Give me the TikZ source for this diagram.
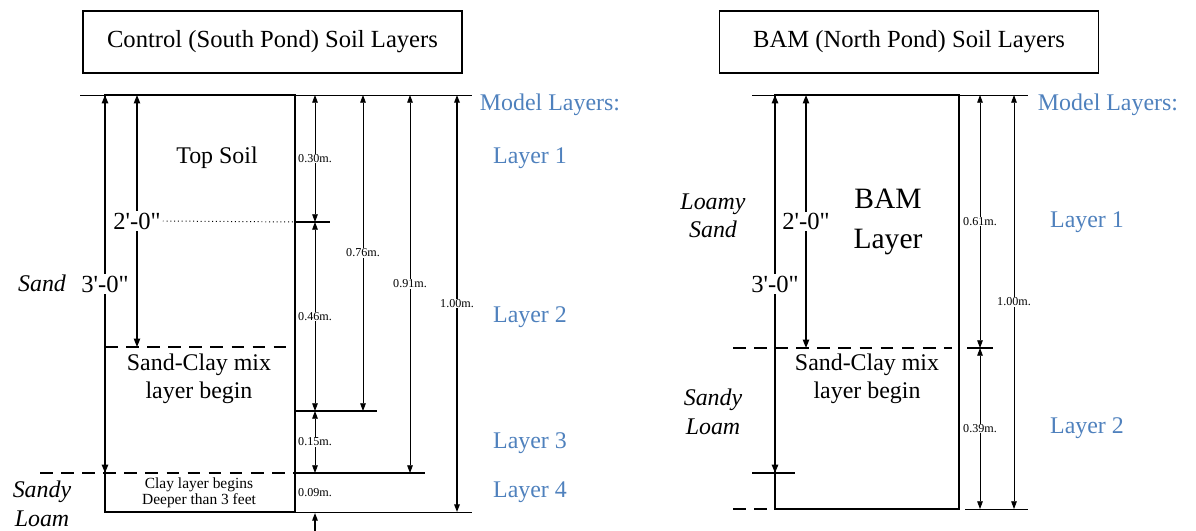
\documentclass[tikz,border=0pt]{standalone}
\usepackage{fontspec}
\setmainfont{Liberation Serif}[Ligatures=TeXOff]
\usetikzlibrary{arrows.meta}
\definecolor{modelblue}{RGB}{79,129,189}
\begin{document}
\begin{tikzpicture}[x=0.025cm,y=-0.025cm]
    \tikzset{frame/.style = {draw=black,line width=1.8pt},
      titlebox/.style = {draw=black,line width=0.9pt,minimum width=9.47cm,minimum height=1.55cm,font=\fontsize{17.5}{20}\selectfont},
      dimarrow/.style = {line width=0.6pt,{Triangle[length=5.5pt,width=4pt]}-{Triangle[length=5.5pt,width=4pt]}},
      deptharrow/.style = {line width=1.3pt,{Triangle[length=6pt,width=4.5pt]}-{Triangle[length=6pt,width=4.5pt]}},
      dimlabel/.style = {fill=white,inner sep=0.6pt,font=\fontsize{8.6}{9}\selectfont},
      depthlabel/.style = {fill=white,inner sep=1pt,font=\fontsize{17.5}{20}\selectfont},
      level/.style = {line width=1pt},
      dashlevel/.style = {line width=1pt,dash pattern=on 9pt off 6pt},
      guide/.style = {line width=0.6pt},
      soil/.style = {align=center,font=\fontsize{17}{20.5}\selectfont\itshape},
      inbox/.style = {align=center,font=\fontsize{17}{20}\selectfont},
      model/.style = {text=modelblue,font=\fontsize{17}{20}\selectfont}}
    \useasboundingbox (0,0) rectangle (1196,531);

    % control (south pond)
    \node[titlebox] (ctitle) at (272.5,42) {Control (South Pond) Soil Layers};
    \coordinate (cNW) at (105,95);
    \coordinate (cSE) at (295,512);
    \draw[guide] (80,95) -- (472,95);
    \draw[guide] (cSE) -- (472,512);
    \draw[dashlevel] (105,347) -- (287,347);
    \draw[dashlevel] (40,473) -- (295,473);
    \draw[level] (295,473) -- (425,473);
    \draw[level] (295,411) -- (377,411);
    \draw[level] (295,222) -- (330,222);
    \draw[frame] (cNW) rectangle (cSE);

    \coordinate (c3a) at (105,95);
    \coordinate (c3b) at (105,473);
    \coordinate (c2a) at (137,95);
    \coordinate (c2b) at (137,347);
    \draw[deptharrow] (c3a) -- (c3b) node[depthlabel,midway] (c3lab) {3'-0"};
    \draw[deptharrow,line width=1pt] (c2a) -- (c2b) node[depthlabel,midway] (c2lab) {2'-0"};
    \draw[line width=0.7pt,dotted] (c2lab.east) -- (295,222);

    \node[inbox] (topsoil) at (217,158) {Top Soil};
    \node[inbox] (cmix) at (199,379) {Sand-Clay mix\\layer begin};
    \node[align=center,font=\fontsize{11}{11.5}\selectfont] (clay) at (199,493) {Clay layer begins\\Deeper than 3 feet};
    \node[soil] (csand) at (42,283) {Sand};
    \node[soil] (cloam) at (42,504) {Sandy\\Loam};

    % dimensions in metres
    \coordinate (d1a) at (315,95);
    \coordinate (d1b) at (315,222);
    \coordinate (d1c) at (315,411);
    \coordinate (d1d) at (315,473);
    \coordinate (d1e) at (315,513);
    \coordinate (d1f) at (315,531);
    \draw[dimarrow] (d1a) -- (d1b) node[dimlabel,midway] {0.30m.};
    \draw[dimarrow] (d1b) -- (d1c) node[dimlabel,midway] {0.46m.};
    \draw[dimarrow] (d1c) -- (d1d) node[dimlabel,midway] {0.15m.};
    \node[dimlabel] (d09) at (315,493) {0.09m.};
    \draw[line width=0.8pt,-{Triangle[length=5.5pt,width=4pt]}] (d1f) -- (d1e);
    \coordinate (d2a) at (363,95);
    \coordinate (d2b) at (363,411);
    \draw[dimarrow] (d2a) -- (d2b) node[dimlabel,midway] {0.76m.};
    \coordinate (d3a) at (410,95);
    \coordinate (d3b) at (410,473);
    \draw[dimarrow] (d3a) -- (d3b) node[dimlabel,midway] {0.91m.};
    \coordinate (d4a) at (457,95);
    \coordinate (d4b) at (457,512);
    \draw[dimarrow,line width=0.9pt] (d4a) -- (d4b) node[dimlabel,midway] {1.00m.};

    \node[model,anchor=west] (cmodel) at (475,105) {Model Layers:};
    \node[model] (cl1) at (530,158) {Layer 1};
    \node[model] (cl2) at (530,317) {Layer 2};
    \node[model] (cl3) at (530,443) {Layer 3};
    \node[model] (cl4) at (530,492) {Layer 4};

    % bam (north pond)
    \node[titlebox] (btitle) at (909,42) {BAM (North Pond) Soil Layers};
    \coordinate (bNW) at (775,95);
    \coordinate (bSE) at (959,509);
    \draw[guide] (752,95) -- (1028,95);
    \draw[guide] (965,509) -- (1028,509);
    \draw[dashlevel] (733,348) -- (952,348);
    \draw[dashlevel] (733,509) -- (775,509);
    \draw[level] (967,348) -- (993,348);
    \draw[level] (752,473) -- (795,473);
    \draw[frame] (bNW) rectangle (bSE);

    \coordinate (b3a) at (775,95);
    \coordinate (b3b) at (775,473);
    \coordinate (b2a) at (806,95);
    \coordinate (b2b) at (806,348);
    \draw[deptharrow] (b3a) -- (b3b) node[depthlabel,midway] (b3lab) {3'-0"};
    \draw[deptharrow,line width=1pt] (b2a) -- (b2b) node[depthlabel,midway] (b2lab) {2'-0"};

    \node[align=center,font=\fontsize{21}{28}\selectfont] (bam) at (888,222) {BAM\\Layer};
    \node[inbox] (bmix) at (867,379) {Sand-Clay mix\\layer begin};
    \node[soil,font=\fontsize{17}{20}\selectfont\itshape] (bsand) at (713,216) {Loamy\\Sand};
    \node[soil] (bloam) at (713,412) {Sandy\\Loam};

    \coordinate (e1a) at (980,95);
    \coordinate (e1b) at (980,348);
    \coordinate (e1c) at (980,509);
    \draw[dimarrow] (e1a) -- (e1b) node[dimlabel,midway] {0.61m.};
    \draw[dimarrow] (e1b) -- (e1c) node[dimlabel,midway] {0.39m.};
    \coordinate (e2a) at (1014,95);
    \coordinate (e2b) at (1014,509);
    \draw[dimarrow] (e2a) -- (e2b) node[dimlabel,midway] {1.00m.};

    \node[model,anchor=west] (bmodel) at (1033,105) {Model Layers:};
    \node[model] (bl1) at (1087,222) {Layer 1};
    \node[model] (bl2) at (1087,428) {Layer 2};
\end{tikzpicture}
\end{document}
